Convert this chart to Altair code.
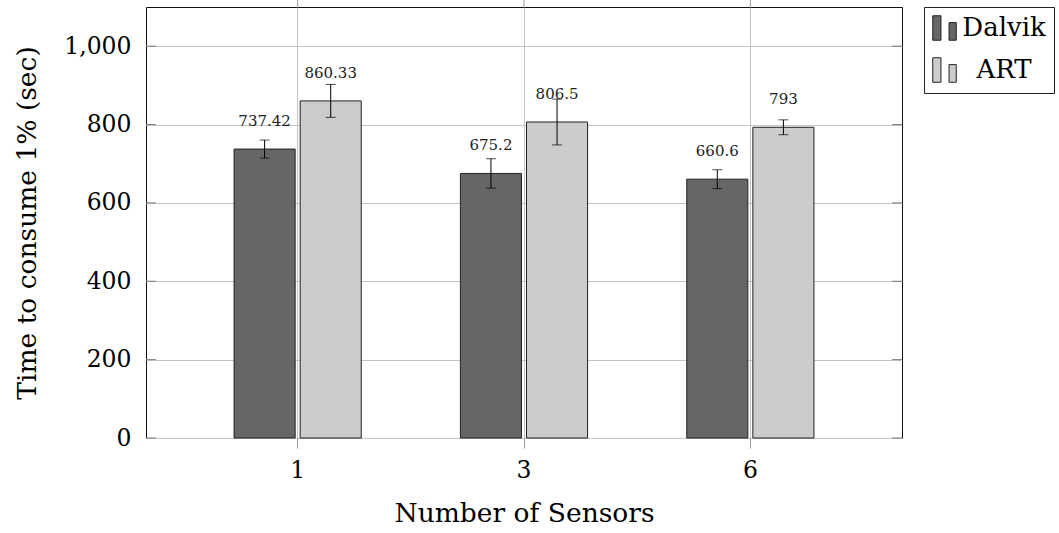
import altair as alt
import pandas as pd

# ---- data ----
sensors = ["1", "3", "6"]
series = ["Dalvik", "ART"]
dalvik = [737.42, 675.2, 660.6]
art = [860.33, 806.5, 793]
dalvik_err = [23, 37.5, 24]
art_err = [42, 58.5, 19]
dalvik_labels = ["737.42", "675.2", "660.6"]
art_labels = ["860.33", "806.5", "793"]
y_ticks = [0, 200, 400, 600, 800, 1000]

rows = []
for i, s in enumerate(sensors):
    rows.append(dict(sensors=s, series="Dalvik", value=dalvik[i],
                     lo=dalvik[i] - dalvik_err[i], hi=dalvik[i] + dalvik_err[i],
                     label=dalvik_labels[i]))
    rows.append(dict(sensors=s, series="ART", value=art[i],
                     lo=art[i] - art_err[i], hi=art[i] + art_err[i],
                     label=art_labels[i]))
df = pd.DataFrame(rows)
ticks_df = pd.DataFrame({"tick": y_ticks})
cats_df = pd.DataFrame({"sensors": sensors})

FONT = "DejaVu Serif"
LABEL_SIZE = 23.5
TITLE_SIZE = 26.5
W, H = 756, 431

x_scale = alt.Scale(domain=sensors, paddingInner=0, paddingOuter=0.17)
y_scale = alt.Scale(domain=[0, 1100], nice=False, zero=True)
xo = alt.XOffset("series:N", sort=series,
                 scale=alt.Scale(domain=series, paddingInner=0.076, paddingOuter=0.75))

x_axis = alt.Axis(title="Number of Sensors", labelAngle=0, grid=True,
                  gridColor="#c4c4c4", gridWidth=1, tickColor="#9a9a9a",
                  tickSize=10, domain=False, labelFont=FONT, titleFont=FONT,
                  labelFontSize=LABEL_SIZE, titleFontSize=TITLE_SIZE, labelColor="black",
                  titleColor="black", titleFontWeight="normal",
                  labelPadding=10, titlePadding=19)
y_axis = alt.Axis(title="Time to consume 1% (sec)", values=y_ticks, format=",d",
                  grid=True, gridColor="#c4c4c4", gridWidth=1, ticks=False,
                  domain=False, labelFont=FONT, titleFont=FONT,
                  labelFontSize=LABEL_SIZE, titleFontSize=TITLE_SIZE, labelColor="black",
                  titleColor="black", titleFontWeight="normal",
                  labelPadding=15, titlePadding=22)

legend = alt.Legend(
    title=None, orient="none", legendX=778, legendY=0,
    symbolType="M-1,-1H-0.33V1H-1Z M0.33,-0.44H0.92V1H0.33Z",
    symbolSize=600, symbolStrokeColor="#222222", symbolStrokeWidth=1,
    symbolOpacity=1,
    labelFont=FONT, labelFontSize=26, labelColor="black",
    labelAlign="center", labelOffset=46,
    strokeColor="#222222", fillColor="white", padding=8, rowPadding=12,
)

base = alt.Chart(df)

bars = base.mark_bar(stroke="#222222", strokeWidth=1).encode(
    x=alt.X("sensors:N", sort=sensors, scale=x_scale, axis=x_axis),
    xOffset=xo,
    y=alt.Y("value:Q", scale=y_scale, axis=y_axis),
    color=alt.Color("series:N", sort=series,
                    scale=alt.Scale(domain=series, range=["#666666", "#cccccc"]),
                    legend=legend),
)

err = base.mark_rule(color="black", strokeWidth=1).encode(
    x=alt.X("sensors:N", sort=sensors, scale=x_scale),
    xOffset=xo,
    y=alt.Y("lo:Q", scale=y_scale),
    y2="hi:Q",
)
cap_lo = base.mark_tick(orient="horizontal", size=10, thickness=1, color="black").encode(
    x=alt.X("sensors:N", sort=sensors, scale=x_scale),
    xOffset=xo,
    y=alt.Y("lo:Q", scale=y_scale),
)
cap_hi = base.mark_tick(orient="horizontal", size=10, thickness=1, color="black").encode(
    x=alt.X("sensors:N", sort=sensors, scale=x_scale),
    xOffset=xo,
    y=alt.Y("hi:Q", scale=y_scale),
)
labels = base.mark_text(font=FONT, fontSize=15, dy=-28, color="#222222").encode(
    x=alt.X("sensors:N", sort=sensors, scale=x_scale),
    xOffset=xo,
    y=alt.Y("value:Q", scale=y_scale),
    text="label:N",
)

tick_left = alt.Chart(ticks_df).mark_rule(color="#7a7a7a", strokeWidth=1).encode(
    y=alt.Y("tick:Q", scale=y_scale),
    x=alt.value(0), x2=alt.value(10),
)
tick_right = alt.Chart(ticks_df).mark_rule(color="#7a7a7a", strokeWidth=1).encode(
    y=alt.Y("tick:Q", scale=y_scale),
    x=alt.value(W - 10), x2=alt.value(W),
)
tick_top = alt.Chart(cats_df).mark_rule(color="#9a9a9a", strokeWidth=1).encode(
    x=alt.X("sensors:N", sort=sensors, scale=x_scale),
    y=alt.value(-8), y2=alt.value(0),
)

chart = alt.layer(bars, err, cap_lo, cap_hi, labels, tick_left, tick_right, tick_top).properties(
    width=W, height=H,
    autosize=alt.AutoSizeParams(type="none"),
    padding={"left": 146, "top": 7, "right": 1059 - 146 - W, "bottom": 533 - 7 - H},
    background="white",
).configure_view(
    stroke="#111111", strokeWidth=1,
)

chart.save("out.html", embed_options={"renderer": "svg", "actions": False})
